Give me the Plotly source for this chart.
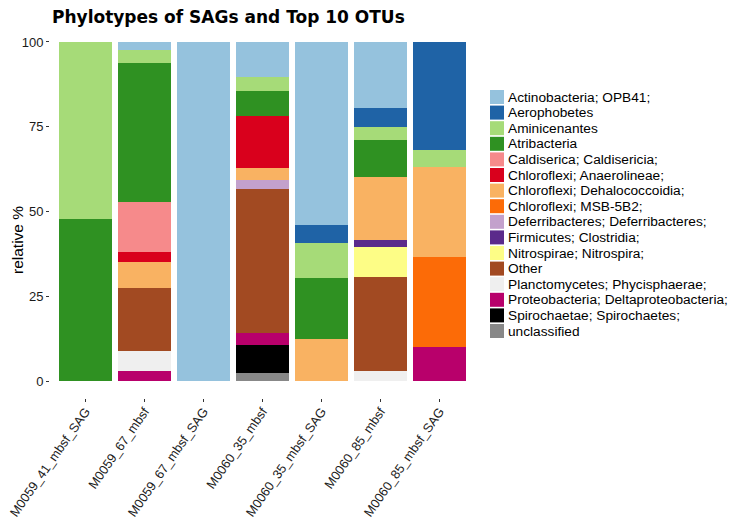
import plotly.graph_objects as go

samples = ["M0059_41_mbsf_SAG", "M0059_67_mbsf", "M0059_67_mbsf_SAG", "M0060_35_mbsf",
           "M0060_35_mbsf_SAG", "M0060_85_mbsf", "M0060_85_mbsf_SAG"]

taxa = ["Actinobacteria; OPB41;", "Aerophobetes", "Aminicenantes", "Atribacteria",
        "Caldiserica; Caldisericia;", "Chloroflexi; Anaerolineae;", "Chloroflexi; Dehalococcoidia;",
        "Chloroflexi; MSB-5B2;", "Deferribacteres; Deferribacteres;", "Firmicutes; Clostridia;",
        "Nitrospirae; Nitrospira;", "Other", "Planctomycetes; Phycisphaerae;",
        "Proteobacteria; Deltaproteobacteria;", "Spirochaetae; Spirochaetes;", "unclassified"]

colors = ["#95c2dd", "#1f63a6", "#a6db78", "#2f9122", "#f68a8b", "#d9001c", "#f9b262",
          "#fc6b07", "#c3a1cc", "#5b2a8b", "#fdfd86", "#a24a22", "#efefef", "#b8006b",
          "#000000", "#888888"]

actinobacteria = [0, 2.5, 100, 10.3, 54.1, 19.5, 0]
aerophobetes = [0, 0, 0, 0, 5.2, 5.6, 31.8]
aminicenantes = [52.2, 3.6, 0, 4.2, 10.4, 3.8, 5.2]
atribacteria = [47.8, 41.1, 0, 7.2, 18.0, 10.8, 0]
caldiserica = [0, 14.7, 0, 0, 0, 0, 0]
anaerolineae = [0, 3.0, 0, 15.5, 0, 0, 0]
dehalococcoidia = [0, 7.8, 0, 3.5, 12.3, 18.7, 26.3]
msb5b2 = [0, 0, 0, 0, 0, 0, 26.6]
deferribacteres = [0, 0, 0, 2.6, 0, 0, 0]
firmicutes = [0, 0, 0, 0, 0, 2.2, 0]
nitrospirae = [0, 0, 0, 0, 0, 8.7, 0]
other = [0, 18.3, 0, 42.6, 0, 27.8, 0]
planctomycetes = [0, 6.0, 0, 0, 0, 2.9, 0]
proteobacteria = [0, 3.0, 0, 3.6, 0, 0, 10.1]
spirochaetae = [0, 0, 0, 8.0, 0, 0, 0]
unclassified = [0, 0, 0, 2.5, 0, 0, 0]

series = [actinobacteria, aerophobetes, aminicenantes, atribacteria, caldiserica, anaerolineae,
          dehalococcoidia, msb5b2, deferribacteres, firmicutes, nitrospirae, other,
          planctomycetes, proteobacteria, spirochaetae, unclassified]

yticks = [0, 25, 50, 75, 100]

FONT = "Liberation Sans, Arial, Helvetica, sans-serif"
TITLE_FONT = "DejaVu Sans, Liberation Sans, sans-serif"

# the page body adds an 8px offset; size/position the figure in page pixels
OFF = 8
W, H = 742 - OFF, 532 - OFF
ML, MT = 50 - OFF, 25 - OFF
MR = W - (475 - OFF)
MB = H - (398 - OFF)

fig = go.Figure()
# ggplot stacks the first level on top: add in reverse order
for name, vals, col in reversed(list(zip(taxa, series, colors))):
    fig.add_trace(go.Bar(x=samples, y=vals, name=name, marker_color=col,
                         marker_line_width=0, showlegend=False))

pw = W - ML - MR
ph = H - MT - MB


def px_x(px):
    return (px - OFF - ML) / pw


def px_y(py):
    return (H - MB - (py - OFF)) / ph


# legend drawn compactly (ggplot-style spacing)
shapes = []
annotations = []
for i, (name, col) in enumerate(zip(taxa, colors)):
    cy = 97 + i * 15.6
    shapes.append(dict(type="rect", xref="paper", yref="paper",
                       x0=px_x(490), x1=px_x(504), y0=px_y(cy + 7), y1=px_y(cy - 7),
                       fillcolor=col, line_width=0))
    annotations.append(dict(xref="paper", yref="paper", x=px_x(506), y=px_y(cy),
                            xanchor="left", yanchor="middle", text=name, showarrow=False,
                            font=dict(size=13.7, color="#000000", family=FONT)))

# y-axis title
annotations.append(dict(xref="paper", yref="paper", x=px_x(18), y=px_y(240),
                        xanchor="center", yanchor="middle", text="relative %", textangle=-90,
                        showarrow=False, font=dict(size=15.5, color="#000000", family=FONT)))

fig.update_layout(
    width=W, height=H,
    margin=dict(l=ML, r=MR, t=MT, b=MB),
    barmode="stack", bargap=0.1,
    plot_bgcolor="white", paper_bgcolor="white",
    font=dict(family=FONT, color="#000000"),
    title=dict(text="<b>Phylotypes of SAGs and Top 10 OTUs</b>", xref="container",
               x=(52 - OFF) / W, xanchor="left", y=1 - 3 / H, yanchor="top",
               font=dict(size=17, color="#000000", family=TITLE_FONT)),
    shapes=shapes, annotations=annotations,
)
fig.update_xaxes(range=[-0.6, 6.6], showgrid=False, zeroline=False, showline=False,
                 automargin=False,
                 ticks="outside", ticklen=3, tickcolor="#333333", tickangle=-55,
                 ticklabelstandoff=-3,
                 tickfont=dict(size=12.8, color="#1a1a1a", family=FONT))
fig.update_yaxes(range=[-5, 105], tickvals=yticks, ticktext=[str(v) for v in yticks],
                 showgrid=False, zeroline=False, showline=False, automargin=False,
                 ticks="outside", ticklen=3, tickcolor="#333333",
                 tickfont=dict(size=13, color="#1a1a1a", family=FONT))

fig.write_html("out.html")
